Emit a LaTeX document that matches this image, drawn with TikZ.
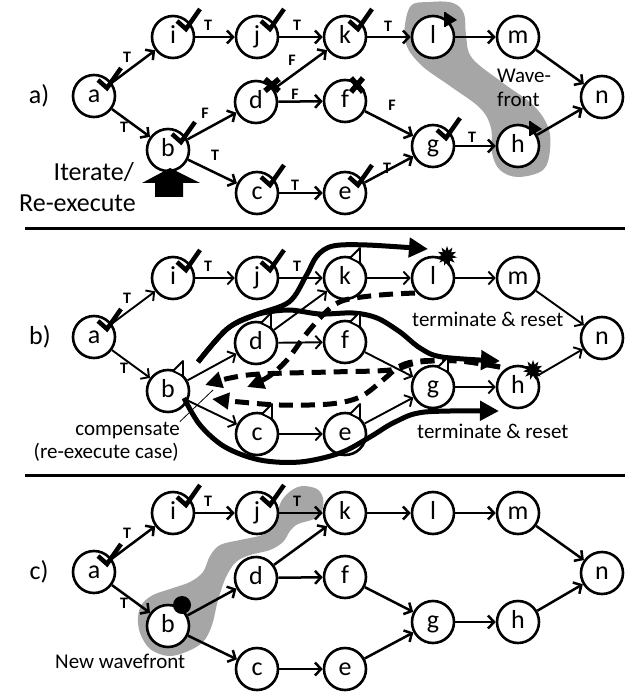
\documentclass[tikz,border=0pt]{standalone}
\usepackage{fontspec}
\setmainfont{Carlito}
\usetikzlibrary{arrows.meta,calc,shapes.geometric}
\definecolor{wave}{RGB}{166,166,166}
\begin{document}
\begin{tikzpicture}[x=1pt,y=-1pt,
  nd/.style={circle,draw,line width=2.6pt,fill=white,minimum size=42pt,inner sep=0pt,
    text height=17pt,text depth=4pt,font=\fontsize{26}{26}\selectfont},
  edge/.style={line width=2.5pt,-{Straight Barb[length=6pt,width=13pt]}},
  edgeb/.style={line width=1.9pt,-{Straight Barb[length=6pt,width=13pt]}},
  lbl/.style={font=\fontsize{16}{16}\selectfont\bfseries,inner sep=0pt},
  txt/.style={font=\fontsize{21}{25}\selectfont,inner sep=0pt},
  bigtxt/.style={font=\fontsize{26}{30}\selectfont,inner sep=0pt},
  chk/.style={line width=4.5pt,line join=miter},
  crs/.style={line width=5.5pt},
  opentri/.style={fill=white,draw,line width=1.8pt,line join=round},
  burst/.style={star,star points=11,star point ratio=1.8,fill,inner sep=0pt,minimum size=20pt},
  thk/.style={line width=5pt,-{Triangle[length=19pt,width=19pt]}},
  dsh/.style={line width=5pt,dash pattern=on 14pt off 8pt,-{Triangle[length=17pt,width=16pt]}},
  sep/.style={line width=3pt}
]
\useasboundingbox (0,0) rectangle (632,692);

% separators
\coordinate (s1l) at (25,229); \coordinate (s1r) at (625,229);
\coordinate (s2l) at (25,475); \coordinate (s2r) at (625,475);
\draw[sep] (s1l) -- (s1r);
\draw[sep] (s2l) -- (s2r);

% wavefront blobs
\fill[wave] plot[smooth cycle,tension=0.6] coordinates {(410,7) (430,2) (453,3) (464,14) (466,35) (472,58) (503,83) (533,105) (548,127) (550,150) (543,170) (518,177) (500,170) (492,153) (491,128) (480,108) (450,86) (420,64) (405,40)};
\fill[wave] plot[smooth cycle,tension=0.55] coordinates {(303,486) (317,489) (323,498) (322,511) (314,519) (298,524) (290,531) (283,542) (270,550) (250,555) (236,562) (226,577) (218,600) (212,625) (203,642) (186,652) (168,656) (150,649) (140,633) (138,617) (142,604) (153,595) (170,589) (190,582) (203,572) (210,556) (220,545) (240,540) (262,535) (272,526) (277,513) (282,500) (292,490)};

% nodes
\foreach \p/\dy in {A/0,B/241,C/476} {
  \node[nd] (\p a) at (94,96+\dy) {a};
  \node[nd] (\p i) at (173,37+\dy) {i};
  \node[nd] (\p j) at (257,37+\dy) {j};
  \node[nd] (\p k) at (345,37+\dy) {k};
  \node[nd] (\p l) at (433,37+\dy) {l};
  \node[nd] (\p m) at (518,37+\dy) {m};
  \node[nd] (\p n) at (602,97+\dy) {n};
  \node[nd] (\p b) at (168,150+\dy) {b};
  \node[nd] (\p d) at (256,102+\dy) {d};
  \node[nd] (\p f) at (345,101+\dy) {f};
  \node[nd] (\p c) at (257,193+\dy) {c};
  \node[nd] (\p e) at (345,193+\dy) {e};
  \node[nd] (\p g) at (433,146+\dy) {g};
  \node[nd] (\p h) at (518,146+\dy) {h};
}

% edges
\foreach \p/\st in {A/edge,B/edgeb,C/edge} {
  \draw[\st] (\p a) -- (\p i);
  \draw[\st] (\p a) -- (\p b);
  \draw[\st] (\p i) -- (\p j);
  \draw[\st] (\p j) -- (\p k);
  \draw[\st] (\p k) -- (\p l);
  \draw[\st] (\p l) -- (\p m);
  \draw[\st] (\p m) -- (\p n);
  \draw[\st] (\p b) -- (\p d);
  \draw[\st] (\p b) -- (\p c);
  \draw[\st] (\p d) -- (\p k);
  \draw[\st] (\p d) -- (\p f);
  \draw[\st] (\p f) -- (\p g);
  \draw[\st] (\p c) -- (\p e);
  \draw[\st] (\p e) -- (\p g);
  \draw[\st] (\p g) -- (\p h);
  \draw[\st] (\p h) -- (\p n);
}

% edge labels
\foreach \p/\dy in {A/0,B/241,C/476} {
  \node[lbl] (\p lai) at (127,57+\dy) {T};
  \node[lbl] (\p lab) at (124,127+\dy) {T};
  \node[lbl] (\p lij) at (208,25+\dy) {T};
  \node[lbl] (\p ljk) at (297,25+\dy) {T};
}
\node[lbl] (Albd) at (205,113) {F};
\node[lbl] (Albc) at (215,155) {T};
\node[lbl] (Aldk) at (292,60) {F};
\node[lbl] (Aldf) at (295,94) {F};
\node[lbl] (Alce) at (295,185) {T};
\node[lbl] (Alkl) at (388,26) {T};
\node[lbl] (Alfg) at (392,105) {F};
\node[lbl] (Aleg) at (387,168) {T};
\node[lbl] (Algh) at (472,137) {T};

% panel labels
\node[bigtxt] (pa) at (39,96) {a)};
\node[bigtxt] (pb) at (40,337) {b)};
\node[bigtxt] (pc) at (39,572) {c)};

% panel a texts
\node[bigtxt,anchor=base east] (it1) at (134,181) {Iterate/};
\node[bigtxt,anchor=base east] (it2) at (136,212) {Re-execute};
\fill (170,168) -- (200,183) -- (183,183) -- (183,197) -- (155,197) -- (155,183) -- (142,183) -- cycle;
\node[txt,anchor=base west] (wf1) at (497,83) {Wave-};
\node[txt,anchor=base west] (wf2) at (497,107) {front};

% markers panel a
\foreach \nd in {Aa,Ai,Aj,Ak,Ab,Ac,Ae,Ag,Ba,Bi,Bj,Ca,Ci,Cj} {
  \draw[chk] ($(\nd.center)+(4,-16)$) -- ++(9,8) -- ++(14,-20);
}
\draw[crs] ($(Ad.center)+(16,-17)$) +(-7,-6) -- +(7,6) +(-7,6) -- +(7,-6);
\draw[crs] ($(Af.center)+(12,-16)$) +(-6,-7) -- +(6,7) +(-6,7) -- +(6,-7);
\foreach \nd in {Al,Ah} {
  \fill ($(\nd.center)+(12,-25)$) -- ++(12,8) -- ++(-12,7) -- cycle;
  \draw[line width=2.5pt] ($(\nd.center)+(12,-25)$) -- ++(0,15);
}

% panel b thick arrows
\draw[dsh] plot[smooth,tension=0.55] coordinates {(415,293) (380,295) (345,300) (328,310) (307,333) (287,360) (268,377) (247,387)};
\draw[dsh] plot[smooth,tension=0.55] coordinates {(500,367) (460,361) (420,362) (390,370) (330,372) (260,374) (230,378) (205,385)};
\draw[dsh] plot[smooth,tension=0.55] coordinates {(500,367) (460,361) (420,361) (400,366) (383,380) (360,397) (330,404) (280,405) (240,402) (212,399)};
\draw[thk] plot[smooth,tension=0.55] coordinates {(198,362) (227,329) (255,315) (289,302) (306,276) (317,256) (333,246) (367,245) (428,249)};
\draw[thk] plot[smooth,tension=0.55] coordinates {(198,362) (227,329) (255,315) (288,310) (320,314) (353,313) (377,318) (400,332) (420,348) (442,357) (500,361)};
\draw[thk] plot[smooth,tension=0.55] coordinates {(184,398) (200,425) (225,447) (260,460) (300,462) (340,453) (370,437) (395,422) (425,412) (499,411)};

% panel b markers
\foreach \nd in {Bb,Bd,Bk,Bf,Bc,Be,Bg} {
  \draw[opentri] ($(\nd.center)+(15,-30)$) -- ++(0,15) -- ++(-10,-5) -- cycle;
}
\node[burst] (bl) at ($(Bl.center)+(14,-22)$) {};
\node[burst] (bh) at ($(Bh.center)+(15,-17)$) {};

% panel b texts
\node[txt,anchor=base west] (tr1) at (412,326) {terminate \& reset};
\node[txt,anchor=base west] (tr2) at (417,438) {terminate \& reset};
\node[txt,anchor=base east] (cp1) at (180,435) {compensate};
\node[txt,anchor=base east] (cp2) at (179,458) {(re-execute case)};
\coordinate (cpend) at (213,390);
\draw[line width=0.8pt] (cp1.north east) -- (cpend);

% panel c
\fill (Cb.center) ++(14,-21) circle (9);
\node[txt,anchor=base west] (nw) at (55,668) {New wavefront};
\end{tikzpicture}
\end{document}
